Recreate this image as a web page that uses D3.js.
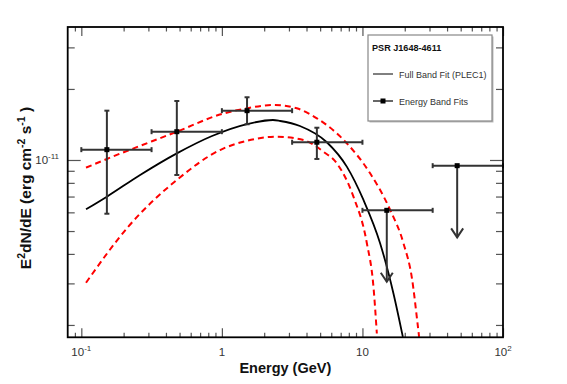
<!DOCTYPE html>
<html>
<head>
<meta charset="utf-8">
<script src="https://cdn.jsdelivr.net/npm/d3@7"></script>
<style>
  body { margin: 0; background: #fff; }
</style>
</head>
<body>
<div id="chart"></div>
<script>
// energy band fits (GeV, erg cm^-2 s^-1)
const bandE = [0.152, 0.478, 1.51, 4.74, 14.9, 47.2];
const bandLo = [0.1, 0.316, 1.0, 3.16, 10, 31.6];
const bandHi = [0.316, 1.0, 3.16, 10, 31.6, 100];
const bandFlux = [1.106e-11, 1.318e-11, 1.618e-11, 1.189e-11, 6.12e-12, 9.46e-12];
const fluxUp = [1.618e-11, 1.778e-11, 1.844e-11, 1.37e-11, null, null];
const fluxDown = [5.92e-12, 8.64e-12, 1.417e-11, 1.01e-11, null, null];
const arrowTo = [null, null, null, null, 3.05e-12, 4.7e-12];

// full band fit (PLEC1) and its 1 sigma band
const fitE = [0.108, 0.152, 0.262, 0.478, 0.851, 1.51, 2.31, 2.6, 3.59, 5.58, 7.74, 10.17, 13.37, 16.62, 19.39];
const fitFlux = [6.18e-12, 6.99e-12, 8.64e-12, 1.067e-11, 1.264e-11, 1.42e-11, 1.477e-11, 1.463e-11, 1.393e-11, 1.189e-11, 9.37e-12, 6.77e-12, 4.43e-12, 2.72e-12, 1.78e-12];
const upE = [0.108, 0.152, 0.478, 0.998, 1.51, 2.32, 3.41, 4.74, 7.74, 11.34, 15.75, 19.58, 22.6, 24.5, 25.3];
const upFlux = [9.28e-12, 1.01e-11, 1.318e-11, 1.566e-11, 1.656e-11, 1.711e-11, 1.656e-11, 1.502e-11, 1.177e-11, 8.78e-12, 6.14e-12, 4.44e-12, 3.1e-12, 2.1e-12, 1.78e-12];
const loE = [0.108, 0.216, 0.478, 0.971, 1.51, 2.46, 3.8, 5.28, 6.57, 8.63, 10.75, 11.98, 12.66];
const loFlux = [3.02e-12, 5.22e-12, 8.23e-12, 1.102e-11, 1.207e-11, 1.255e-11, 1.215e-11, 1.084e-11, 9.68e-12, 6.99e-12, 4.44e-12, 2.9e-12, 1.84e-12];

// ticks
const xMajor = [0.1, 1, 10, 100];
const xMinor = [0.09, 0.2, 0.3, 0.4, 0.5, 0.6, 0.7, 0.8, 0.9, 2, 3, 4, 5, 6, 7, 8, 9, 20, 30, 40, 50, 60, 70, 80, 90];
const xTickBase = ["10", "1", "10", "10"];
const xTickExp = ["-1", "", "", "2"];
const yMajor = [1e-11];
const yMinor = [2e-12, 3e-12, 4e-12, 5e-12, 6e-12, 7e-12, 8e-12, 9e-12, 2e-11, 3e-11];
const yTickBase = ["10"];
const yTickExp = ["-11"];

const width = 567, height = 384;
const pLeft = 67.7, pRight = 503, pTop = 27, pBottom = 337.3;

const svg = d3.select("#chart").append("svg")
    .attr("width", width)
    .attr("height", height)
    .style("font-family", "'Liberation Sans', Arial, sans-serif");

const x = d3.scaleLog().domain([0.08, 100]).range([pLeft, pRight]);
const y = d3.scaleLog().domain([1.773e-12, 3.66e-11]).range([pBottom, pTop]);

// ticks on all four sides, pointing in
const tickCol = "#555";
const addAxis = (axis, tx, ty, vals, size) => {
    svg.append("g")
        .attr("transform", `translate(${tx},${ty})`)
        .call(axis.tickValues(vals).tickSize(size).tickFormat(""))
        .call(g => g.select(".domain").remove())
        .call(g => g.selectAll("line").attr("stroke", tickCol).attr("stroke-width", 1.2));
};
addAxis(d3.axisBottom(x), 0, pBottom, xMajor, -9);
addAxis(d3.axisBottom(x), 0, pBottom, xMinor, -4.5);
addAxis(d3.axisTop(x), 0, pTop, xMajor, -9);
addAxis(d3.axisTop(x), 0, pTop, xMinor, -4.5);
addAxis(d3.axisLeft(y), pLeft, 0, yMajor, -13);
addAxis(d3.axisLeft(y), pLeft, 0, yMinor, -7);
addAxis(d3.axisRight(y), pRight, 0, yMajor, -13);
addAxis(d3.axisRight(y), pRight, 0, yMinor, -7);

// tick labels with exponents
const xl = svg.selectAll(".xlab").data(xMajor).enter()
    .append("text")
    .attr("x", d => x(d))
    .attr("y", 356)
    .attr("text-anchor", "middle")
    .attr("font-size", 11.5)
    .attr("fill", "#333");
xl.append("tspan").text((d, i) => xTickBase[i]);
xl.append("tspan").attr("dy", -5).attr("font-size", 8).text((d, i) => xTickExp[i]);

const yl = svg.selectAll(".ylab").data(yMajor).enter()
    .append("text")
    .attr("x", 59)
    .attr("y", d => y(d) + 4)
    .attr("text-anchor", "end")
    .attr("font-size", 11.5)
    .attr("fill", "#333");
yl.append("tspan").text((d, i) => yTickBase[i]);
yl.append("tspan").attr("dy", -5).attr("font-size", 8).text((d, i) => yTickExp[i]);

// axis titles
svg.append("text")
    .attr("x", (pLeft + pRight) / 2)
    .attr("y", 372.5)
    .attr("text-anchor", "middle")
    .attr("font-size", 14.5)
    .attr("font-weight", "bold")
    .attr("fill", "#111")
    .text("Energy (GeV)");

const yt = svg.append("text")
    .attr("transform", "translate(31,188) rotate(-90)")
    .attr("text-anchor", "middle")
    .attr("font-size", 15.5)
    .attr("font-weight", "bold")
    .attr("fill", "#111");
yt.append("tspan").text("E");
yt.append("tspan").attr("dy", -6.5).attr("font-size", 10.5).text("2");
yt.append("tspan").attr("dy", 6.5).text("dN/dE (erg cm");
yt.append("tspan").attr("dy", -6.5).attr("font-size", 10.5).text("-2");
yt.append("tspan").attr("dy", 6.5).text(" s");
yt.append("tspan").attr("dy", -6.5).attr("font-size", 10.5).text("-1");
yt.append("tspan").attr("dy", 6.5).text(" )");

// curves
svg.append("clipPath").attr("id", "plotclip")
    .append("rect")
    .attr("x", pLeft).attr("y", pTop)
    .attr("width", pRight - pLeft).attr("height", pBottom - pTop);

const line = d3.line()
    .x(d => x(d[0]))
    .y(d => y(d[1]))
    .curve(d3.curveMonotoneX);

const curves = svg.append("g").attr("clip-path", "url(#plotclip)");
curves.append("path")
    .datum(upE.map((e, i) => [e, upFlux[i]]))
    .attr("d", line)
    .attr("fill", "none")
    .attr("stroke", "#ff0000")
    .attr("stroke-width", 2)
    .attr("stroke-dasharray", "6,4");
curves.append("path")
    .datum(loE.map((e, i) => [e, loFlux[i]]))
    .attr("d", line)
    .attr("fill", "none")
    .attr("stroke", "#ff0000")
    .attr("stroke-width", 2)
    .attr("stroke-dasharray", "6,4");
curves.append("path")
    .datum(fitE.map((e, i) => [e, fitFlux[i]]))
    .attr("d", line)
    .attr("fill", "none")
    .attr("stroke", "#000")
    .attr("stroke-width", 1.8);

// energy band points
const errCol = "#333";
const pts = svg.append("g")
    .attr("stroke", errCol)
    .attr("stroke-width", 2)
    .attr("fill", "none");

bandE.forEach((e, i) => {
    const cx = x(e), cy = y(bandFlux[i]);
    const x0 = x(bandLo[i]), x1 = x(bandHi[i]);
    pts.append("line").attr("x1", x0).attr("x2", x1).attr("y1", cy).attr("y2", cy);
    pts.append("line").attr("x1", x0).attr("x2", x0).attr("y1", cy - 2.5).attr("y2", cy + 2.5);
    pts.append("line").attr("x1", x1).attr("x2", x1).attr("y1", cy - 2.5).attr("y2", cy + 2.5);
    if (arrowTo[i] === null) {
        const y0 = y(fluxUp[i]), y1 = y(fluxDown[i]);
        pts.append("line").attr("x1", cx).attr("x2", cx).attr("y1", y0).attr("y2", y1);
        pts.append("line").attr("x1", cx - 2.5).attr("x2", cx + 2.5).attr("y1", y0).attr("y2", y0);
        pts.append("line").attr("x1", cx - 2.5).attr("x2", cx + 2.5).attr("y1", y1).attr("y2", y1);
    } else {
        const ty = y(arrowTo[i]);
        pts.append("line").attr("x1", cx).attr("x2", cx).attr("y1", cy).attr("y2", ty);
        pts.append("path").attr("d", `M${cx - 6},${ty - 9}L${cx},${ty}L${cx + 6},${ty - 9}`);
    }
    svg.append("rect")
        .attr("x", cx - 2.5).attr("y", cy - 2.5)
        .attr("width", 5).attr("height", 5)
        .attr("fill", "#000");
});

// frame
svg.append("rect")
    .attr("x", pLeft).attr("y", pTop)
    .attr("width", pRight - pLeft).attr("height", pBottom - pTop)
    .attr("fill", "none")
    .attr("stroke", "#000")
    .attr("stroke-width", 1.8);

// legend
const lg = svg.append("g").attr("transform", "translate(368,35)");
lg.append("rect")
    .attr("x", 1.5).attr("y", 1.5)
    .attr("width", 124).attr("height", 86)
    .attr("fill", "#bbb");
lg.append("rect")
    .attr("width", 124).attr("height", 86)
    .attr("fill", "#fff")
    .attr("stroke", "#888")
    .attr("stroke-width", 1.2);
lg.append("text")
    .attr("x", 4).attr("y", 15.5)
    .attr("font-size", 9.1)
    .attr("font-weight", "bold")
    .attr("fill", "#111")
    .text("PSR J1648-4611");
lg.append("line")
    .attr("x1", 5).attr("x2", 25).attr("y1", 39).attr("y2", 39)
    .attr("stroke", "#000").attr("stroke-width", 1);
lg.append("text")
    .attr("x", 31).attr("y", 42.5)
    .attr("font-size", 9)
    .attr("fill", "#333")
    .text("Full Band Fit (PLEC1)");
lg.append("line")
    .attr("x1", 5).attr("x2", 25).attr("y1", 66).attr("y2", 66)
    .attr("stroke", "#000").attr("stroke-width", 1.2);
lg.append("rect")
    .attr("x", 12.5).attr("y", 63.5).attr("width", 5).attr("height", 5)
    .attr("fill", "#000");
lg.append("text")
    .attr("x", 31).attr("y", 69.5)
    .attr("font-size", 9)
    .attr("fill", "#333")
    .text("Energy Band Fits");
</script>
</body>
</html>
